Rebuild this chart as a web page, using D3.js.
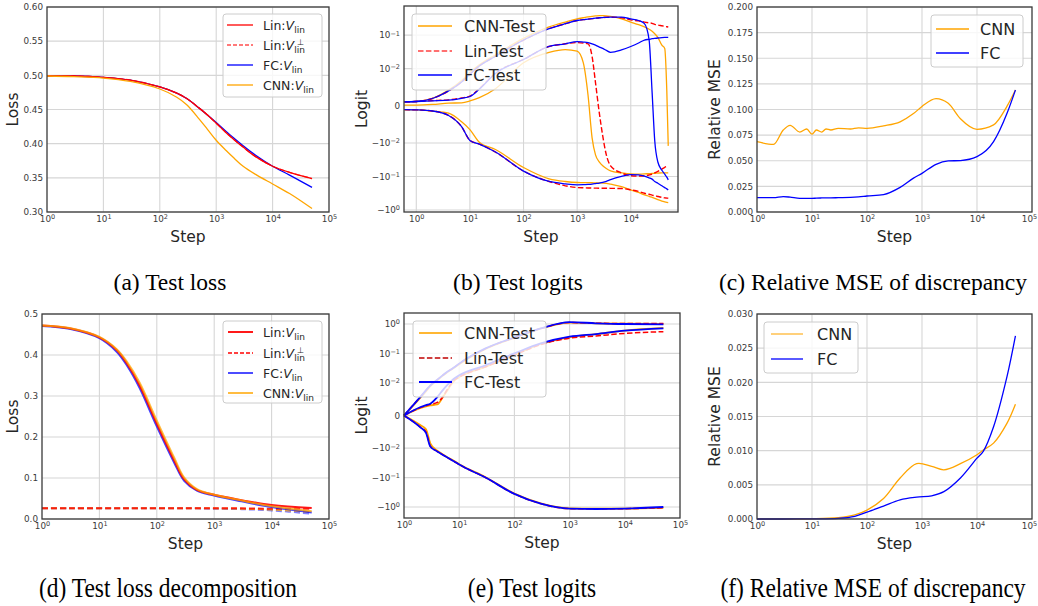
<!DOCTYPE html>
<html>
<head>
<meta charset="utf-8">
<script src="https://cdnjs.cloudflare.com/ajax/libs/d3/7.8.5/d3.min.js"></script>
<style>
  body { margin: 0; background: #fff; }
  text { font-family: 'DejaVu Sans', sans-serif; }
  .caption { font-family: 'Liberation Serif', serif; fill: #000; }
</style>
</head>
<body>
<svg id="fig" width="1038" height="606"></svg>
<script>
// ---------- (a) test loss ----------
const aSteps = [1, 3, 10, 30, 100, 200, 300, 500, 700, 1000, 1500, 2000, 3000, 5000, 10000, 20000, 50000];
const aLinV = [0.499, 0.499, 0.497, 0.493, 0.483, 0.474, 0.466, 0.452, 0.442, 0.430, 0.416, 0.407, 0.395, 0.381, 0.367, 0.358, 0.349];
const aLinVperp = [0.499, 0.499, 0.497, 0.493, 0.483, 0.474, 0.466, 0.452, 0.442, 0.430, 0.416, 0.407, 0.395, 0.381, 0.367, 0.358, 0.349];
const aFcV = [0.499, 0.499, 0.497, 0.493, 0.483, 0.474, 0.466, 0.452, 0.442, 0.431, 0.418, 0.409, 0.397, 0.383, 0.367, 0.354, 0.336];
const aCnnV = [0.499, 0.498, 0.496, 0.491, 0.480, 0.468, 0.457, 0.436, 0.421, 0.405, 0.390, 0.380, 0.367, 0.355, 0.341, 0.327, 0.305];

// ---------- (b) test logits ----------
const bSteps = [0.6, 1, 2, 4, 7, 10, 15, 30, 100, 300, 600, 1000, 1300, 1600, 1900, 2200, 2600, 3000, 3500, 4200,
  6700, 10000, 14000, 18000, 22000, 25000, 28000, 32000, 38000, 43000, 47000, 50000];
const bCnnTop = [0.00107, 0.00116, 0.002, 0.0042, 0.0068, 0.009, 0.013, 0.026, 0.08, 0.175, 0.245, 0.305,
  0.33, 0.35, 0.365, 0.375, 0.383, 0.38, 0.375, 0.36, 0.305, 0.245, 0.205, 0.175, 0.15, 0.13, 0.11, 0.085,
  0.05, 0.04, 0.004, -0.0122];
const bCnnMid = [0.0002, 0.0002, 0.00036, 0.0007, 0.0008, 0.0013, 0.0022, 0.0046, 0.015, 0.0306, 0.037, 0.033,
  0.015, 0.0027, -0.0086, -0.0226, -0.037, -0.048, -0.058, -0.068, -0.078, -0.084, -0.085, -0.084, -0.082, -0.081,
  -0.08, -0.079, -0.078, -0.078, -0.078, -0.078];
const bCnnLow = [-0.0011, -0.0011, -0.0014, -0.002, -0.0043, -0.0064, -0.0098, -0.0156, -0.054, -0.117, -0.141, -0.151,
  -0.152, -0.153, -0.154, -0.155, -0.156, -0.157, -0.16, -0.17, -0.2, -0.251, -0.3, -0.354, -0.39, -0.42, -0.45, -0.49,
  -0.54, -0.57, -0.59, -0.603];
const bLinTop = [0.00107, 0.00116, 0.00196, 0.004, 0.0064, 0.0085, 0.012, 0.0234, 0.0714, 0.156, 0.219, 0.273,
  0.29, 0.30, 0.31, 0.32, 0.33, 0.335, 0.34, 0.342, 0.33, 0.286, 0.265, 0.245, 0.232, 0.225, 0.21, 0.2,
  0.19, 0.183, 0.178, 0.175];
const bLinMid = [0.00107, 0.00116, 0.0014, 0.0016, 0.0021, 0.0026, 0.0046, 0.0088, 0.0187, 0.0457, 0.055, 0.0598,
  0.058, 0.0547, 0.023, 0.0062, -0.0021, -0.0081, -0.0226, -0.048, -0.078, -0.095, -0.097, -0.095, -0.09, -0.085,
  -0.078, -0.07, -0.06, -0.053, -0.05, -0.048];
const bLinLow = [-0.00103, -0.0011, -0.0014, -0.0026, -0.0056, -0.0093, -0.0108, -0.0186, -0.069, -0.141, -0.19, -0.214,
  -0.218, -0.22, -0.222, -0.223, -0.224, -0.224, -0.225, -0.226, -0.229, -0.251, -0.28, -0.316, -0.34, -0.36, -0.375, -0.395,
  -0.42, -0.435, -0.442, -0.447];
const bFcTop = [0.00107, 0.00116, 0.00196, 0.004, 0.0064, 0.0085, 0.012, 0.0234, 0.0714, 0.156, 0.219, 0.273,
  0.29, 0.30, 0.31, 0.32, 0.33, 0.335, 0.34, 0.342, 0.342, 0.305, 0.273, 0.22, 0.071, 0.0036, -0.0094, -0.037,
  -0.065, -0.085, -0.105, -0.126];
const bFcMid = [0.00107, 0.00116, 0.00134, 0.0015, 0.002, 0.0025, 0.0045, 0.0087, 0.0187, 0.0457, 0.0547, 0.064,
  0.062, 0.0598, 0.055, 0.05, 0.044, 0.04, 0.035, 0.0306, 0.036, 0.0457, 0.058, 0.0714, 0.075, 0.078, 0.08, 0.082,
  0.084, 0.085, 0.0855, 0.0855];
const bFcLow = [-0.00103, -0.0011, -0.0014, -0.0026, -0.0056, -0.0093, -0.0108, -0.0186, -0.069, -0.141, -0.166, -0.178,
  -0.176, -0.172, -0.168, -0.163, -0.157, -0.15, -0.14, -0.125, -0.1, -0.088, -0.09, -0.098, -0.11, -0.12, -0.141, -0.16,
  -0.19, -0.215, -0.235, -0.251];

// ---------- (c) relative MSE ----------
const cSteps = [1, 2, 3, 4, 6, 8, 10, 12, 15, 18, 22, 30, 50, 70, 100, 200, 400, 700, 1000, 1800, 3000, 5000, 10000, 20000, 35000, 50000];
const cCnn = [0.0686, 0.066, 0.080, 0.0846, 0.078, 0.081, 0.076, 0.080, 0.078, 0.081, 0.080, 0.0816, 0.081, 0.082, 0.0816,
  0.084, 0.088, 0.096, 0.103, 0.1106, 0.106, 0.091, 0.0807, 0.085, 0.103, 0.119];
const cFc = [0.014, 0.014, 0.015, 0.0145, 0.0133, 0.0133, 0.0133, 0.0135, 0.0137, 0.0138, 0.0138, 0.014, 0.0143, 0.0148, 0.0156,
  0.017, 0.024, 0.033, 0.0377, 0.0465, 0.0498, 0.0502, 0.054, 0.0686, 0.096, 0.119];

// ---------- (d) test loss decomposition ----------
const dSteps = [1, 3, 10, 20, 30, 50, 100, 200, 300, 500, 1000, 3000, 10000, 50000];
const dLinV = [0.472, 0.465, 0.443, 0.412, 0.380, 0.327, 0.233, 0.144, 0.097, 0.071, 0.059, 0.046, 0.034, 0.027];
const dLinVperp = [0.026, 0.026, 0.026, 0.026, 0.026, 0.026, 0.026, 0.026, 0.026, 0.026, 0.026, 0.026, 0.025, 0.025];
const dFcV = [0.471, 0.464, 0.441, 0.408, 0.375, 0.320, 0.226, 0.138, 0.093, 0.069, 0.057, 0.043, 0.029, 0.016];
const dFcVperp = [0.026, 0.026, 0.026, 0.026, 0.026, 0.026, 0.026, 0.026, 0.026, 0.026, 0.025, 0.024, 0.021, 0.013];
const dCnnV = [0.472, 0.466, 0.444, 0.414, 0.384, 0.333, 0.240, 0.150, 0.101, 0.073, 0.059, 0.045, 0.031, 0.019];
const dCnnVperp = [0.026, 0.026, 0.026, 0.026, 0.026, 0.026, 0.026, 0.026, 0.026, 0.026, 0.026, 0.025, 0.023, 0.017];

// ---------- (e) test logits ----------
const eSteps = [1, 2, 2.5, 3, 4, 5, 6, 8, 10, 30, 100, 300, 1000, 3000, 10000, 50000];
const eCnnTop = [0, 0.0055, 0.0074, 0.009, 0.0122, 0.0172, 0.0225, 0.032, 0.043, 0.142, 0.34, 0.70, 1.12, 1.06, 1.02, 1.0];
const eCnnMid = [0, 0.0023, 0.0028, 0.0031, 0.0034, 0.0055, 0.0075, 0.0115, 0.0157, 0.0348, 0.088, 0.209, 0.353, 0.45, 0.6, 0.74];
const eCnnLow = [0, -0.003, -0.0042, -0.0085, -0.0122, -0.016, -0.020, -0.027, -0.035, -0.097, -0.35, -0.76, -1.12, -1.15, -1.14, -1.07];
const eLinTop = [0, 0.0058, 0.0077, 0.0092, 0.0127, 0.0179, 0.0233, 0.033, 0.045, 0.145, 0.345, 0.70, 1.12, 1.07, 1.04, 1.05];
const eLinMid = [0, 0.0024, 0.003, 0.0034, 0.004, 0.0056, 0.0078, 0.012, 0.0157, 0.035, 0.088, 0.2, 0.33, 0.39, 0.48, 0.55];
const eLinLow = [0, -0.0036, -0.005, -0.0094, -0.0128, -0.0166, -0.0204, -0.0278, -0.036, -0.1, -0.36, -0.77, -1.14, -1.16, -1.14, -1.06];
const eFcTop = [0, 0.0058, 0.0077, 0.0092, 0.0127, 0.0179, 0.0233, 0.033, 0.045, 0.148, 0.35, 0.71, 1.16, 1.06, 1.0, 0.98];
const eFcMid = [0, 0.0026, 0.0032, 0.0036, 0.0056, 0.0077, 0.0092, 0.0137, 0.018, 0.0397, 0.1, 0.219, 0.37, 0.456, 0.592, 0.71];
const eFcLow = [0, -0.0037, -0.0053, -0.0095, -0.0129, -0.0167, -0.0205, -0.0279, -0.036, -0.1, -0.36, -0.775, -1.14, -1.17, -1.14, -1.0];

// ---------- (f) relative MSE ----------
const fSteps = [1, 3, 10, 30, 60, 100, 200, 400, 800, 1500, 2500, 5000, 10000, 13000, 20000, 35000, 50000];
const fCnn = [0, 0, 0.00003, 0.0002, 0.0006, 0.0013, 0.003, 0.006, 0.0081, 0.0077, 0.0072, 0.0081, 0.0094, 0.0101, 0.0111, 0.014, 0.0168];
const fFc = [0, 0, 0.00002, 0.0001, 0.0004, 0.001, 0.0019, 0.0028, 0.0032, 0.0034, 0.004, 0.006, 0.0089, 0.0099, 0.0135, 0.0208, 0.0268];

// tick labels
const decadeTicks = [1, 10, 100, 1000, 10000, 100000];
const logitTicksB = [-1, -0.1, -0.01, 0, 0.01, 0.1];
const logitTicksE = [-1, -0.1, -0.01, 0, 0.01, 0.1, 1];

const captions = ['(a) Test loss', '(b) Test logits', '(c) Relative MSE of discrepancy',
  '(d) Test loss decomposition', '(e) Test logits', '(f) Relative MSE of discrepancy'];

const RED = '#ff0000', BLUE = '#0000ff', ORANGE = '#ffa500';
const MINUS = '\u2212';

// matplotlib-style symlog (linthresh 0.01, linscale 1)
const LINTHRESH = 0.01, LINSCALE = 1 / (1 - 1 / 10);
function symlog(v) {
  const a = Math.abs(v) / LINTHRESH;
  const t = a <= 1 ? a * LINSCALE : LINSCALE + Math.log10(a);
  return Math.sign(v) * t;
}

const svg = d3.select('#fig');

function powLabel(t, v) {
  t.text('');
  if (v === 0) { t.text('0'); return; }
  const e = Math.round(Math.log10(Math.abs(v)));
  t.append('tspan').text((v < 0 ? MINUS : '') + '10');
  t.append('tspan').attr('dy', '-0.45em').attr('font-size', '6.5px').text(String(e).replace('-', MINUS));
}

function drawPanel(p) {
  const w = p.right - p.left, h = p.bottom - p.top;
  const g = svg.append('g').attr('transform', `translate(${p.left},${p.top})`);

  const x = d3.scaleLog().domain(p.xDomain).range([0, w]);
  const y = d3.scaleLinear().domain(p.symlog ? p.yDomain.map(symlog) : p.yDomain).range([h, 0]);
  const yPos = p.symlog ? v => y(symlog(v)) : v => y(v);
  const yTickVals = p.symlog ? p.yTicks.map(symlog) : p.yTicks;

  // grid
  g.append('g').selectAll('line')
    .data(p.xTicks.filter(d => d > p.xDomain[0] && d < p.xDomain[1]))
    .join('line')
    .attr('x1', d => x(d)).attr('x2', d => x(d))
    .attr('y1', 0).attr('y2', h)
    .attr('stroke', '#d6d6d6').attr('stroke-width', 1.1);
  g.append('g').selectAll('line')
    .data(yTickVals)
    .join('line')
    .attr('x1', 0).attr('x2', w)
    .attr('y1', d => y(d)).attr('y2', d => y(d))
    .attr('stroke', '#d6d6d6').attr('stroke-width', 1.1);

  // lines
  const line = d3.line().curve(p.curve || d3.curveCatmullRom.alpha(0.5));
  p.series.forEach(s => {
    const pts = s.steps.map((st, i) => [x(st), yPos(s.values[i])]);
    g.append('path')
      .attr('d', line(pts))
      .attr('fill', 'none')
      .attr('stroke', s.color)
      .attr('stroke-width', s.width || p.lineWidth)
      .attr('stroke-opacity', s.opacity || 1)
      .attr('stroke-dasharray', s.dash || null);
  });

  // axes
  const gx = g.append('g').attr('transform', `translate(0,${h})`)
    .call(d3.axisBottom(x).tickValues(p.xTicks.filter(d => d >= p.xDomain[0] && d <= p.xDomain[1]))
      .tickSize(0).tickPadding(4));
  gx.selectAll('.tick text').each(function (d) { powLabel(d3.select(this), d); });
  // keep the last label inside the page at the right edge
  if (p.right > 1025) gx.selectAll('.tick text').filter(d => d === p.xDomain[1]).attr('dx', -3);

  const gy = g.append('g')
    .call(d3.axisLeft(y).tickValues(yTickVals).tickSize(0).tickPadding(4)
      .tickFormat(p.symlog ? null : d3.format(p.yFormat)));
  if (p.symlog) {
    gy.selectAll('.tick text').each(function (d, i) { powLabel(d3.select(this), p.yTicks[i]); });
  }
  [gx, gy].forEach(a => {
    a.select('.domain').remove();
    a.selectAll('.tick text').attr('font-size', 8.8).attr('fill', '#3a3a3a')
      .attr('font-family', "'DejaVu Sans', sans-serif");
  });

  // frame
  g.append('rect').attr('width', w).attr('height', h)
    .attr('fill', 'none').attr('stroke', '#3a3a3a').attr('stroke-width', 1.3);

  // axis labels
  svg.append('text').attr('x', p.left + w / 2).attr('y', p.bottom + 30)
    .attr('text-anchor', 'middle').attr('font-size', 15.5).attr('fill', '#262626').text('Step');
  svg.append('text')
    .attr('transform', `translate(${p.yLabelX},${p.top + h / 2}) rotate(-90)`)
    .attr('text-anchor', 'middle').attr('dy', '0.35em')
    .attr('font-size', 15.5).attr('fill', '#262626').text(p.yLabel);

  // legend (drawn over the lines, like matplotlib)
  const L = p.legend;
  const lg = svg.append('g');
  lg.append('rect').attr('x', L.x).attr('y', L.y).attr('width', L.w).attr('height', L.h)
    .attr('rx', 3).attr('fill', '#fff').attr('fill-opacity', 0.8)
    .attr('stroke', '#cccccc').attr('stroke-width', 1);
  L.items.forEach((it, i) => {
    const cy = L.rows[i];
    lg.append('line').attr('x1', L.hx0).attr('x2', L.hx1).attr('y1', cy).attr('y2', cy)
      .attr('stroke', it.color).attr('stroke-width', it.width || p.lineWidth)
      .attr('stroke-opacity', it.opacity || 1)
      .attr('stroke-dasharray', it.dash || null);
    const ty = cy + L.fs * 0.36;
    const t = lg.append('text').attr('x', L.tx).attr('y', ty).attr('font-size', L.fs).attr('fill', '#262626');
    if (it.math) {
      t.append('tspan').text(it.label);
      t.append('tspan').attr('font-style', 'italic').text('V');
      const len = t.node().getComputedTextLength();
      t.append('tspan').attr('font-size', L.fs * 0.72).attr('dy', L.fs * 0.27).text('lin');
      if (it.perp) {
        lg.append('text').attr('x', L.tx + len + 2.5).attr('y', ty - L.fs * 0.4)
          .attr('font-size', L.fs * 0.65).attr('fill', '#262626').text('\u22a5');
      }
    } else {
      t.text(it.label);
    }
  });
}

// ---------- panels ----------
const dash = '5.5,2.4';

drawPanel({
  left: 47, right: 329, top: 7, bottom: 212, yLabelX: 13, yLabel: 'Loss',
  xDomain: [1, 1e5], xTicks: decadeTicks,
  yDomain: [0.30, 0.60], yTicks: d3.range(0.30, 0.6001, 0.05), yFormat: '.2f',
  lineWidth: 1.3,
  series: [
    { steps: aSteps, values: aFcV, color: BLUE },
    { steps: aSteps, values: aLinVperp, color: RED, dash: dash, opacity: 0.7 },
    { steps: aSteps, values: aLinV, color: RED },
    { steps: aSteps, values: aCnnV, color: ORANGE }
  ],
  legend: {
    x: 223, y: 14, w: 99, h: 83, rows: [25, 45, 65, 85], hx0: 227, hx1: 253, tx: 263, fs: 12.5,
    items: [
      { label: 'Lin:', math: true, color: RED },
      { label: 'Lin:', math: true, perp: true, color: RED, dash: '4,2', opacity: 0.7 },
      { label: 'FC:', math: true, color: BLUE },
      { label: 'CNN:', math: true, color: ORANGE }
    ]
  }
});

drawPanel({
  left: 404, right: 678, top: 6, bottom: 212, yLabelX: 362, yLabel: 'Logit',
  xDomain: [0.59, 7.6e4], xTicks: decadeTicks,
  symlog: true, yDomain: [-1.15, 0.74], yTicks: logitTicksB,
  lineWidth: 1.3, curve: d3.curveMonotoneX,
  series: [
    { steps: bSteps, values: bCnnTop, color: ORANGE },
    { steps: bSteps, values: bCnnMid, color: ORANGE },
    { steps: bSteps, values: bCnnLow, color: ORANGE },
    { steps: bSteps, values: bLinTop, color: RED, dash: dash, width: 1.4 },
    { steps: bSteps, values: bLinMid, color: RED, dash: dash, width: 1.4 },
    { steps: bSteps, values: bLinLow, color: RED, dash: dash, width: 1.4 },
    { steps: bSteps, values: bFcTop, color: BLUE },
    { steps: bSteps, values: bFcMid, color: BLUE },
    { steps: bSteps, values: bFcLow, color: BLUE }
  ],
  legend: {
    x: 412, y: 14, w: 134, h: 76, rows: [26, 51, 75], hx0: 418, hx1: 452, tx: 464, fs: 16,
    items: [
      { label: 'CNN-Test', color: ORANGE },
      { label: 'Lin-Test', color: RED, dash: dash, opacity: 0.75 },
      { label: 'FC-Test', color: BLUE }
    ]
  }
});

drawPanel({
  left: 757, right: 1032, top: 7, bottom: 212, yLabelX: 715, yLabel: 'Relative MSE',
  xDomain: [1, 1e5], xTicks: decadeTicks,
  yDomain: [0, 0.2], yTicks: d3.range(0, 0.2001, 0.025), yFormat: '.3f',
  lineWidth: 1.3, curve: d3.curveMonotoneX,
  series: [
    { steps: cSteps, values: cCnn, color: ORANGE },
    { steps: cSteps, values: cFc, color: BLUE }
  ],
  legend: {
    x: 931, y: 15, w: 92, h: 52, rows: [29, 53], hx0: 936, hx1: 969, tx: 980, fs: 16,
    items: [
      { label: 'CNN', color: ORANGE },
      { label: 'FC', color: BLUE }
    ]
  }
});

drawPanel({
  left: 42, right: 329, top: 314, bottom: 519, yLabelX: 13, yLabel: 'Loss',
  xDomain: [1, 1e5], xTicks: decadeTicks,
  yDomain: [0, 0.5], yTicks: d3.range(0, 0.5001, 0.1), yFormat: '.1f',
  lineWidth: 2,
  series: [
    { steps: dSteps, values: dFcVperp, color: BLUE, dash: '6,3', opacity: 0.5 },
    { steps: dSteps, values: dCnnVperp, color: ORANGE, dash: '6,3', opacity: 0.8 },
    { steps: dSteps, values: dLinVperp, color: RED, dash: '6,3', opacity: 0.8 },
    { steps: dSteps, values: dFcV, color: BLUE, opacity: 0.75 },
    { steps: dSteps, values: dLinV, color: RED, opacity: 0.9 },
    { steps: dSteps, values: dCnnV, color: ORANGE, opacity: 0.75 }
  ],
  legend: {
    x: 223, y: 321, w: 99, h: 82, rows: [332, 353, 373, 393], hx0: 228, hx1: 253, tx: 263, fs: 12.5,
    items: [
      { label: 'Lin:', math: true, color: RED, opacity: 0.9 },
      { label: 'Lin:', math: true, perp: true, color: RED, dash: '4,2', width: 1.3 },
      { label: 'FC:', math: true, color: BLUE, opacity: 0.7 },
      { label: 'CNN:', math: true, color: ORANGE, opacity: 0.75 }
    ]
  }
});

drawPanel({
  left: 404, right: 680, top: 313, bottom: 518, yLabelX: 362, yLabel: 'Logit',
  xDomain: [1, 1e5], xTicks: decadeTicks,
  symlog: true, yDomain: [-2.37, 2.37], yTicks: logitTicksE,
  lineWidth: 1.8, curve: d3.curveMonotoneX,
  series: [
    { steps: eSteps, values: eCnnTop, color: ORANGE },
    { steps: eSteps, values: eCnnMid, color: ORANGE },
    { steps: eSteps, values: eCnnLow, color: ORANGE },
    { steps: eSteps, values: eLinTop, color: RED, dash: dash, width: 1.5 },
    { steps: eSteps, values: eLinMid, color: RED, dash: dash, width: 1.5 },
    { steps: eSteps, values: eLinLow, color: RED, dash: dash, width: 1.5 },
    { steps: eSteps, values: eFcTop, color: BLUE },
    { steps: eSteps, values: eFcMid, color: BLUE },
    { steps: eSteps, values: eFcLow, color: BLUE }
  ],
  legend: {
    x: 413, y: 321, w: 133, h: 76, rows: [333, 358, 382], hx0: 419, hx1: 452, tx: 464, fs: 16,
    items: [
      { label: 'CNN-Test', color: ORANGE, opacity: 0.8 },
      { label: 'Lin-Test', color: '#c00000', dash: dash, width: 1.3 },
      { label: 'FC-Test', color: BLUE }
    ]
  }
});

drawPanel({
  left: 757, right: 1032, top: 314, bottom: 519, yLabelX: 715, yLabel: 'Relative MSE',
  xDomain: [1, 1e5], xTicks: decadeTicks,
  yDomain: [0, 0.03], yTicks: d3.range(0, 0.03001, 0.005), yFormat: '.3f',
  lineWidth: 1.3,
  series: [
    { steps: fSteps, values: fCnn, color: ORANGE },
    { steps: fSteps, values: fFc, color: BLUE }
  ],
  legend: {
    x: 764, y: 322, w: 94, h: 51, rows: [334, 359], hx0: 771, hx1: 803, tx: 817, fs: 16,
    items: [
      { label: 'CNN', color: ORANGE, opacity: 0.8 },
      { label: 'FC', color: BLUE }
    ]
  }
});

// ---------- captions ----------
const capPos = [[170, 290, 1], [518, 290, 1], [873, 290, 1], [168, 597, 1.18], [532, 597, 1.18], [873, 597, 1.18]];
captions.forEach((c, i) => {
  const [cx, cy, sy] = capPos[i];
  svg.append('text').attr('class', 'caption')
    .attr('transform', `translate(${cx},${cy}) scale(1,${sy})`)
    .attr('text-anchor', 'middle').attr('font-size', 23.5).text(c);
});
</script>
</body>
</html>
